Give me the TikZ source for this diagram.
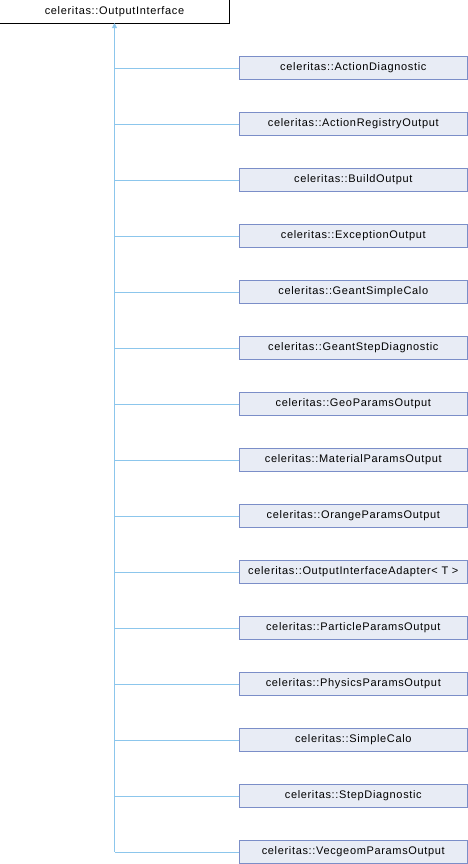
\documentclass[tikz,border=0pt]{standalone}
\usepackage{fontspec}
\setmainfont{Liberation Sans}
\newfontfamily\diagfont[LetterSpace=6]{Liberation Sans}
\usetikzlibrary{arrows.meta}
\definecolor{edgeblue}{RGB}{140,198,236}
\definecolor{boxborder}{RGB}{123,142,200}
\definecolor{boxfill}{RGB}{232,236,245}
\begin{document}
\begin{tikzpicture}[x=1bp,y=-1bp,
  basebox/.style={draw=black,fill=white,line width=1bp,minimum width=229bp,minimum height=23bp,inner sep=0pt,font=\diagfont\fontsize{11bp}{13bp}\selectfont},
  childbox/.style={draw=boxborder,fill=boxfill,line width=1bp,minimum width=228bp,minimum height=23bp,inner sep=0pt,font=\diagfont\fontsize{11bp}{13bp}\selectfont},
  inh/.style={draw=edgeblue,line width=1bp}]
\useasboundingbox (0,0) rectangle (468,864);
\node[basebox] (base) at (114.5,11.5) {celeritas::OutputInterface};
\foreach \name [count=\i from 0] in {ActionDiagnostic,ActionRegistryOutput,BuildOutput,ExceptionOutput,GeantSimpleCalo,GeantStepDiagnostic,GeoParamsOutput,MaterialParamsOutput,OrangeParamsOutput,{OutputInterfaceAdapter< T >},ParticleParamsOutput,PhysicsParamsOutput,SimpleCalo,StepDiagnostic,VecgeomParamsOutput}{
  \node[childbox] (c\i) at (353.3,{68+56*\i}) {celeritas::\name};
}
\coordinate (top) at (114.5,23);
\coordinate (bot) at (114.5,{68+56*14});
\draw[inh,-{Triangle[length=5bp,width=5bp,fill=edgeblue]}] (bot) -- (top);
\foreach \i in {0,...,14}{
  \draw[inh] (c\i.west) -- (c\i.west -| top);
}
\end{tikzpicture}
\end{document}
